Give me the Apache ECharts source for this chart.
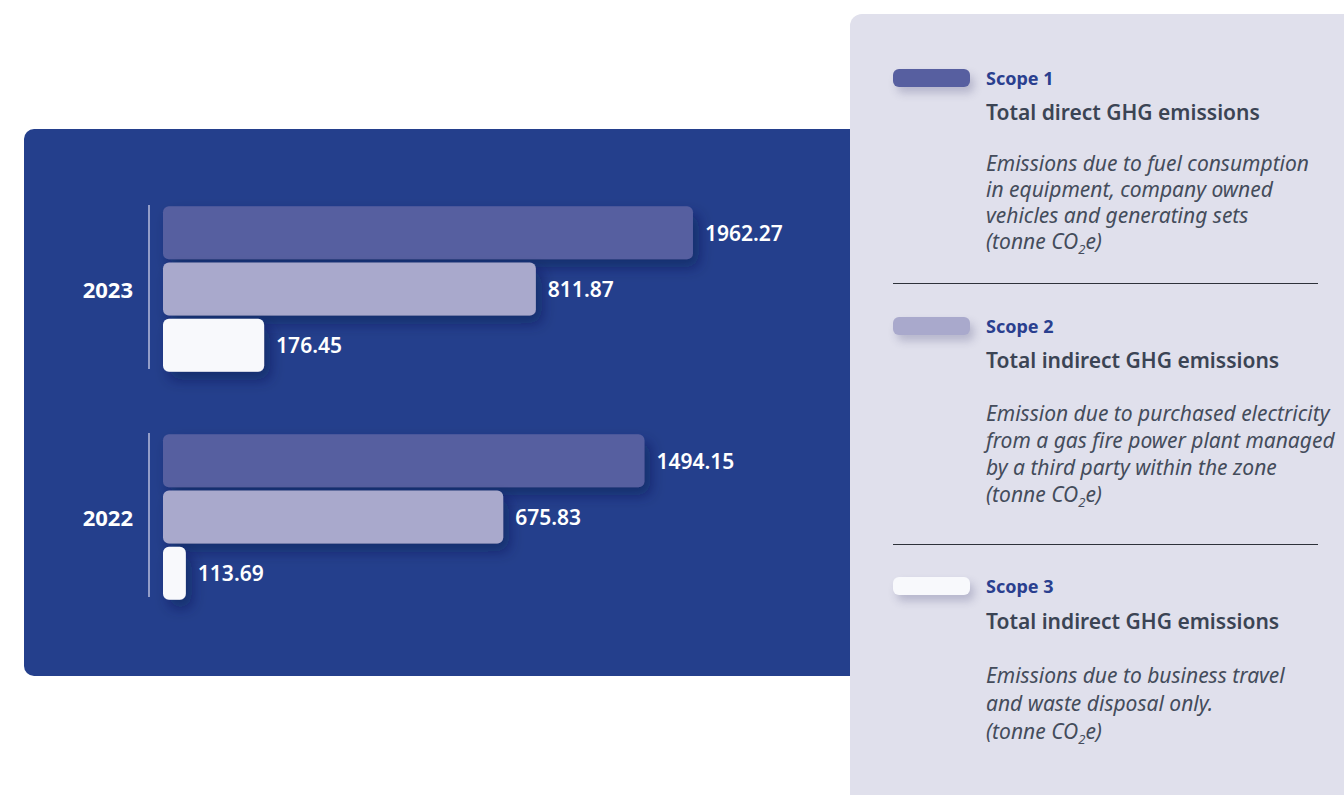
<!DOCTYPE html>
<html>
<head>
<meta charset="utf-8">
<title>GHG emissions</title>
<script src="https://cdn.jsdelivr.net/npm/echarts@6/dist/echarts.min.js"></script>
<style>
    html, body { margin: 0; padding: 0; background: #fff; }
    body { width: 1344px; height: 795px; position: relative; overflow: hidden; font-family: "Noto Sans", sans-serif; }
    #chart { position: absolute; left: 24px; top: 129px; width: 900px; height: 547px; background: #243F8C; border-radius: 10px; }
    .panel { position: absolute; left: 850px; top: 14px; width: 520px; height: 800px; background: #E0E0EC; border-radius: 12px 0 0 0; z-index: 2; }
    .block { position: absolute; left: 43px; width: 460px; }
    .swatch { position: absolute; left: 0; top: 0; width: 77px; height: 18px; border-radius: 6px; box-shadow: 4px 6px 8px rgba(60, 60, 110, 0.25); }
    .scope { position: absolute; left: 93px; top: -3px; line-height: 24px; font-size: 18px; font-weight: 700; color: #2A3F8F; white-space: nowrap; }
    .title { position: absolute; left: 93px; top: 28px; line-height: 30px; font-size: 21px; font-weight: 600; color: #3B4454; white-space: nowrap; }
    .desc { position: absolute; left: 93px; font-size: 21px; font-style: italic; color: #444C5B; white-space: nowrap; }
    .desc sub { font-size: 13px; line-height: 0; }
    .rule { position: absolute; left: 43px; width: 425px; height: 0; border-top: 1px solid #2E323A; }
</style>
</head>
<body>
<div id="chart"></div>
<div class="panel">
    <div class="block" style="top: 55px;">
        <div class="swatch" style="background: #575FA0;"></div>
        <div class="scope">Scope 1</div>
        <div class="title">Total direct GHG emissions</div>
        <div class="desc" style="top: 81px; line-height: 26px;">Emissions due to fuel consumption<br>in equipment, company owned<br>vehicles and generating sets<br>(tonne CO<sub>2</sub>e)</div>
    </div>
    <div class="rule" style="top: 269px;"></div>
    <div class="block" style="top: 303px;">
        <div class="swatch" style="background: #A9A9CC;"></div>
        <div class="scope">Scope 2</div>
        <div class="title">Total indirect GHG emissions</div>
        <div class="desc" style="top: 83px; line-height: 27px;">Emission due to purchased electricity<br>from a gas fire power plant managed<br>by a third party within the zone<br>(tonne CO<sub>2</sub>e)</div>
    </div>
    <div class="rule" style="top: 530px;"></div>
    <div class="block" style="top: 563px;">
        <div class="swatch" style="background: #F8F9FC;"></div>
        <div class="scope">Scope 3</div>
        <div class="title" style="top: 29px;">Total indirect GHG emissions</div>
        <div class="desc" style="top: 84px; line-height: 28px;">Emissions due to business travel<br>and waste disposal only.<br>(tonne CO<sub>2</sub>e)</div>
    </div>
</div>
<script>
    // 数据
    const years = ['2023', '2022'];
    const scopeNames = ['Scope 1', 'Scope 2', 'Scope 3'];
    const scope1 = [1962.27, 1494.15];
    const scope2 = [811.87, 675.83];
    const scope3 = [176.45, 113.69];

    const scopeColors = ['#575FA0', '#A9A9CC', '#F8F9FC'];
    // 对数轴范围，柱子从 xMin 开始
    const xMin = 100;
    const xMax = 5000;

    const myChart = echarts.init(document.getElementById('chart'), null, { renderer: 'svg' });

    function barSeries(name, data, color) {
        return {
            name: name,
            type: 'bar',
            data: data,
            barWidth: 53,
            barGap: '6%',
            itemStyle: {
                color: color,
                borderRadius: 6,
                shadowColor: 'rgba(12, 22, 70, 0.45)',
                shadowBlur: 14,
                shadowOffsetX: 6,
                shadowOffsetY: 8
            },
            label: {
                show: true,
                position: 'right',
                distance: 12,
                color: '#fff',
                fontSize: 21,
                fontWeight: 600,
                fontFamily: 'Noto Sans',
                formatter: (p) => p.value.toFixed(2)
            }
        };
    }

    const option = {
        animation: false,
        grid: {
            left: 139,
            top: 46,
            width: 696.5,
            height: 456
        },
        xAxis: {
            type: 'log',
            min: xMin,
            max: xMax,
            show: false
        },
        yAxis: {
            type: 'category',
            data: years,
            inverse: true,
            axisLine: { show: false },
            axisTick: { show: false },
            splitLine: { show: false },
            axisLabel: {
                color: '#fff',
                fontSize: 22,
                fontWeight: 'bold',
                fontFamily: 'Noto Sans',
                margin: 30
            }
        },
        series: [
            barSeries(scopeNames[0], scope1, scopeColors[0]),
            barSeries(scopeNames[1], scope2, scopeColors[1]),
            barSeries(scopeNames[2], scope3, scopeColors[2]),
            {
                // 每组左侧的竖线
                type: 'custom',
                silent: true,
                clip: false,
                data: years.map((y) => [xMin, y]),
                renderItem: (params, api) => {
                    const p = api.coord([api.value(0), api.value(1)]);
                    return {
                        type: 'line',
                        shape: { x1: p[0] - 14, y1: p[1] - 84, x2: p[0] - 14, y2: p[1] + 80 },
                        style: { stroke: '#B9BEDD', lineWidth: 1.5 }
                    };
                }
            }
        ]
    };
    myChart.setOption(option);
</script>
</body>
</html>
